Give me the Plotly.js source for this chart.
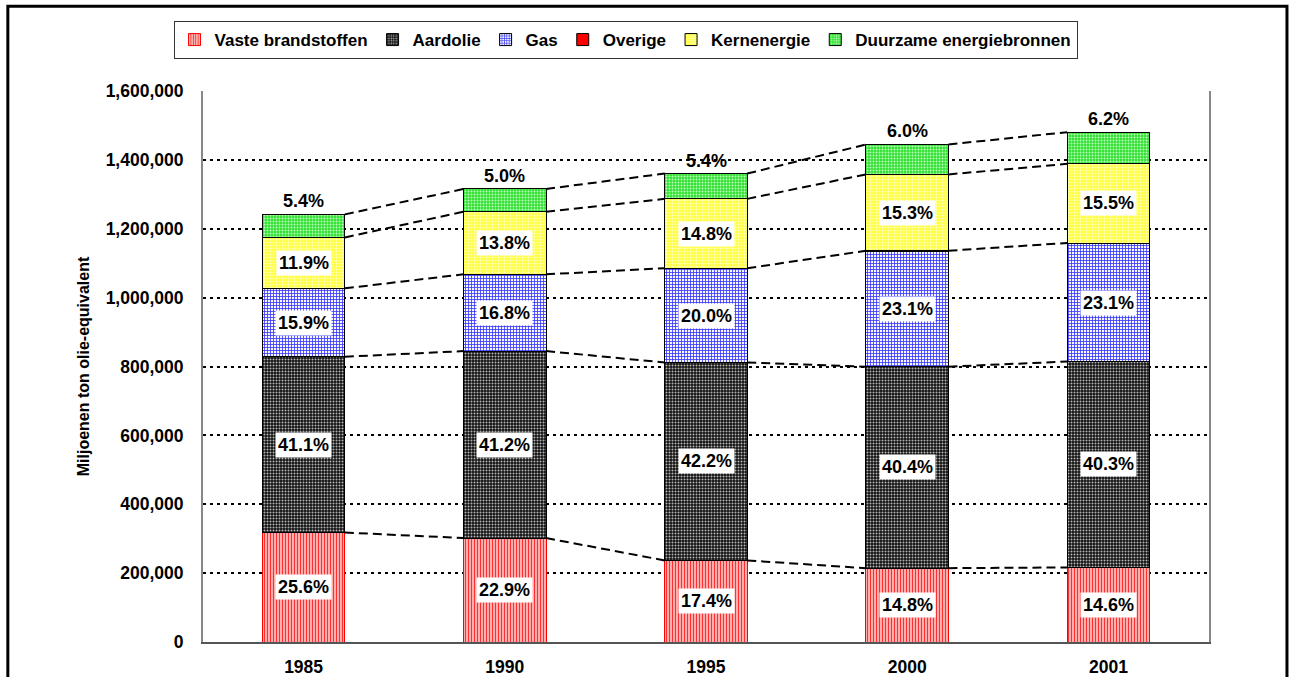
<!DOCTYPE html>
<html>
<head>
<meta charset="utf-8">
<script src="https://cdn.plot.ly/plotly-3.0.1.min.js"></script>
<style>
  body { margin: 0; background: #fff; }
  #chart { width: 1291px; height: 677px; }
</style>
</head>
<body>
<div id="chart"></div>
<script>
// Data
const years = ['1985', '1990', '1995', '2000', '2001'];

const vaste     = [317900, 301800, 236900, 214400, 216600];
const aardolie  = [510500, 543000, 574600, 585200, 597800];
const gas       = [197500, 221400, 272300, 334600, 342700];
const overige   = [1000, 1500, 1500, 2000, 1500];
const kern      = [147800, 181900, 201500, 221600, 229900];
const duurzaam  = [67100, 65900, 73500, 86900, 92000];

// percentage labels as printed on the bars
const pctVaste    = [25.6, 22.9, 17.4, 14.8, 14.6];
const pctAardolie = [41.1, 41.2, 42.2, 40.4, 40.3];
const pctGas      = [15.9, 16.8, 20.0, 23.1, 23.1];
const pctKern     = [11.9, 13.8, 14.8, 15.3, 15.5];
const pctDuurzaam = [5.4, 5.0, 5.4, 6.0, 6.2];

const yTicks = [0, 200000, 400000, 600000, 800000, 1000000, 1200000, 1400000, 1600000];

const FONT = 'Liberation Sans, Arial, sans-serif';
const barWidth = 0.41;
const xs = years.map((y, i) => i);

function barTrace(name, values, color, pattern, lineColor) {
    return {
        type: 'bar',
        name: name,
        x: xs,
        y: values,
        width: barWidth,
        marker: {
            color: color,
            pattern: pattern,
            line: { color: lineColor || '#000000', width: 1 }
        },
        hoverinfo: 'skip'
    };
}

const traces = [
    barTrace('Vaste brandstoffen', vaste, '#ff3030',
        { shape: '|', fgcolor: '#ff3030', bgcolor: '#ffc8c8', size: 3, solidity: 0.45 }, '#ff0000'),
    barTrace('Aardolie', aardolie, '#111111',
        { shape: '.', fgcolor: '#b8b8b8', bgcolor: '#111111', size: 3, solidity: 0.35 }),
    barTrace('Gas', gas, '#3030ff',
        { shape: '+', fgcolor: '#3030ff', bgcolor: '#f4f4ff', size: 3, solidity: 0.45 }),
    barTrace('Overige', overige, '#ff0000', undefined, '#000000'),
    barTrace('Kernenergie', kern, '#ffff40',
        { shape: '.', fgcolor: '#ffffc8', bgcolor: '#ffff40', size: 3, solidity: 0.35 }),
    barTrace('Duurzame energiebronnen', duurzaam, '#30e030',
        { shape: '.', fgcolor: '#c0ffc0', bgcolor: '#30e030', size: 3, solidity: 0.35 })
];

// cumulative tops of each stack level
const levels = [vaste, aardolie, gas, overige, kern, duurzaam];
const cum = [];
let running = years.map(() => 0);
levels.forEach(arr => {
    running = running.map((v, i) => v + arr[i]);
    cum.push(running.slice());
});

// dashed series lines between neighbouring bars (skip gas, it sits on overige)
[0, 1, 3, 4, 5].forEach(li => {
    const lx = [], ly = [];
    for (let i = 0; i < years.length - 1; i++) {
        lx.push(i + barWidth / 2, i + 1 - barWidth / 2, null);
        ly.push(cum[li][i], cum[li][i + 1], null);
    }
    traces.push({
        type: 'scatter',
        mode: 'lines',
        x: lx,
        y: ly,
        line: { color: '#000000', width: 2, dash: '9px,5px' },
        showlegend: false,
        hoverinfo: 'skip'
    });
});

// label boxes
const annotations = [];
function addLabels(pcts, bottoms, tops) {
    pcts.forEach((p, i) => {
        annotations.push({
            x: i, y: (bottoms[i] + tops[i]) / 2,
            xref: 'x', yref: 'y',
            text: p.toFixed(1) + '%',
            showarrow: false,
            bgcolor: '#ffffff',
            borderpad: 2,
            font: { family: FONT, size: 18, color: '#000000', weight: 'bold' }
        });
    });
}
const zeros = years.map(() => 0);
addLabels(pctVaste, zeros, cum[0]);
addLabels(pctAardolie, cum[0], cum[1]);
addLabels(pctGas, cum[1], cum[2]);
addLabels(pctKern, cum[3], cum[4]);
pctDuurzaam.forEach((p, i) => {
    annotations.push({
        x: i, y: cum[5][i],
        xref: 'x', yref: 'y',
        yanchor: 'bottom',
        yshift: 1,
        text: p.toFixed(1) + '%',
        showarrow: false,
        font: { family: FONT, size: 18, color: '#000000', weight: 'bold' }
    });
});

const layout = {
    width: 1291,
    height: 677,
    barmode: 'stack',
    paper_bgcolor: '#ffffff',
    plot_bgcolor: '#ffffff',
    margin: { l: 203, r: 82, t: 91, b: 35 },
    font: { family: FONT, size: 17, color: '#000000' },
    showlegend: true,
    legend: {
        orientation: 'h',
        x: 0.42, xanchor: 'center',
        y: 1.127, yanchor: 'top',
        traceorder: 'normal',
        bordercolor: '#333333',
        borderwidth: 1,
        bgcolor: '#ffffff',
        font: { family: FONT, size: 17, color: '#000000', weight: 'bold' }
    },
    xaxis: {
        range: [-0.5, 4.5],
        tickvals: xs,
        ticktext: years,
        showgrid: false,
        zeroline: false,
        showline: true,
        linecolor: '#555555',
        linewidth: 2,
        ticks: '',
        ticklabelstandoff: 8,
        tickfont: { family: FONT, size: 17.5, weight: 'bold' }
    },
    yaxis: {
        range: [0, 1600000],
        tickvals: yTicks,
        tickformat: ',d',
        showgrid: true,
        gridcolor: '#000000',
        gridwidth: 2,
        griddash: '3px,4px',
        zeroline: false,
        showline: true,
        mirror: true,
        linecolor: '#888888',
        linewidth: 2,
        ticks: '',
        ticklabelstandoff: 14,
        tickfont: { family: FONT, size: 17.5, weight: 'bold' },
        title: {
            text: 'Miljoenen ton olie-equivalent',
            standoff: 12,
            font: { family: FONT, size: 16, weight: 'bold' }
        }
    },
    annotations: annotations,
    shapes: [{
        type: 'rect',
        xref: 'paper', yref: 'paper',
        x0: -0.194, x1: 1.0775, y0: -0.2, y1: 1.154,
        line: { color: '#000000', width: 3 },
        fillcolor: 'rgba(0,0,0,0)',
        layer: 'above'
    }]
};

Plotly.newPlot('chart', traces, layout, { staticPlot: true, displayModeBar: false });
</script>
</body>
</html>
